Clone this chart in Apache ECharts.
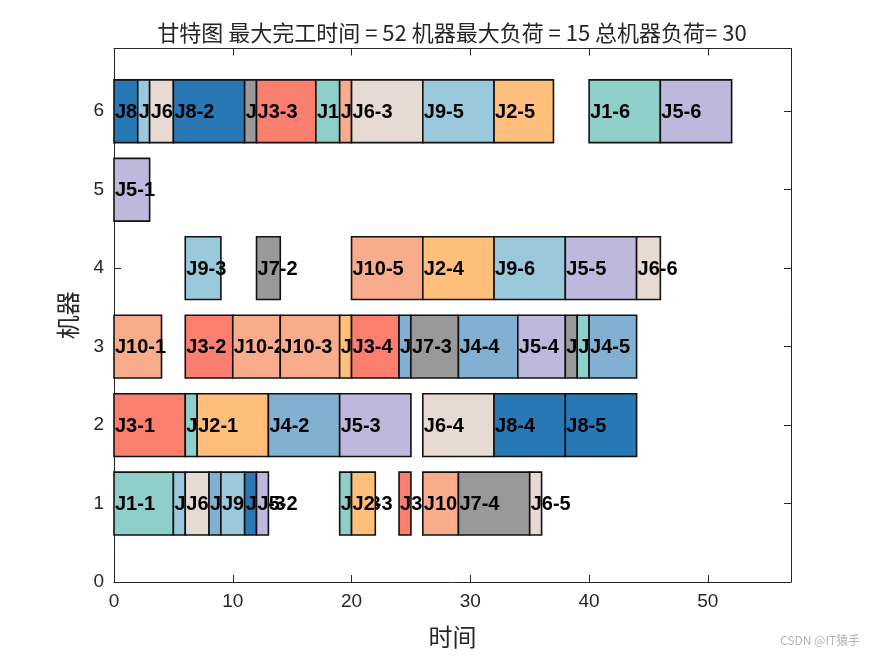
<!DOCTYPE html>
<html>
<head>
<meta charset="utf-8">
<script src="https://cdn.jsdelivr.net/npm/echarts@6/dist/echarts.min.js"></script>
<style>html,body{margin:0;padding:0;background:#fff}#c{width:875px;height:656px}</style>
</head>
<body>
<div id="c"></div>
<script>
// ---- data (time-ordered per machine) ----
var machines = [1,1,1,1,1,1,1,1,1,1,1,1,1,
                2,2,2,2,2,2,2,2,
                3,3,3,3,3,3,3,3,3,3,3,3,3,
                4,4,4,4,4,4,4,
                5,
                6,6,6,6,6,6,6,6,6,6,6,6,6];
var jobs = [1,9,6,4,9,8,5,1,2,3,10,7,6,
            3,1,2,4,5,6,8,8,
            10,3,10,10,2,3,4,7,4,5,7,1,4,
            9,7,10,2,9,5,6,
            5,
            8,9,6,8,7,3,1,10,6,9,2,1,5];
var ops = [1,1,1,1,2,3,2,3,3,5,4,4,5,
           1,2,1,2,3,4,4,5,
           1,2,2,3,2,4,3,3,4,4,5,5,5,
           3,2,5,4,6,5,6,
           1,
           1,4,2,2,1,3,4,6,3,5,5,6,6];
var starts = [0,5,6,8,9,11,12,19,20,24,26,29,35,
              0,6,7,13,19,26,32,38,
              0,6,10,14,19,20,24,25,29,34,38,39,40,
              6,12,20,26,32,38,44,
              0,
              0,2,3,5,11,12,17,19,20,26,32,40,46];
var ends = [5,6,8,9,11,12,13,20,22,25,29,35,36,
            6,7,13,19,25,32,38,44,
            4,10,14,19,20,24,25,29,34,38,39,40,44,
            9,14,26,32,38,44,46,
            3,
            2,3,5,11,12,17,19,20,26,32,37,46,52];
var xTicks = [0,10,20,30,40,50];
var yTicks = [0,1,2,3,4,5,6];
var titleText = '甘特图 最大完工时间 = 52 机器最大负荷 = 15 总机器负荷= 30';

// job colours (style)
var jobColors = {1:'#8ECFC9',2:'#FFBE7A',3:'#FA7F6F',4:'#82B0D2',5:'#BEB8DC',
                 6:'#E7DAD2',7:'#999999',8:'#2878B5',9:'#9AC9DB',10:'#F8AC8C'};

var data = machines.map(function(m,i){
  return [starts[i], ends[i], m, jobs[i], 'J'+jobs[i]+'-'+ops[i]];
});

var chart = echarts.init(document.getElementById('c'), null, {renderer:'canvas'});
var axisColor = '#262626';
var labelFont = 'Arial, "Liberation Sans", Helvetica, sans-serif';
chart.setOption({
  animation:false,
  grid:{left:114, top:48.5, right:84, bottom:74, show:false},
  xAxis:[{
    type:'value', min:0, max:57, interval:10,
    axisLine:{show:true, onZero:false, lineStyle:{color:axisColor, width:1}},
    axisTick:{show:true, inside:true, length:7, lineStyle:{color:axisColor}},
    axisLabel:{show:true, color:axisColor, fontSize:19, fontFamily:labelFont, margin:10, showMaxLabel:false},
    splitLine:{show:false},
    name:'时间', nameLocation:'middle', nameGap:43,
    nameTextStyle:{fontSize:24, color:axisColor, fontFamily:'"Noto Sans CJK SC", sans-serif'}
  },{
    type:'value', position:'top', min:0, max:57, interval:10,
    axisLine:{show:true, onZero:false, lineStyle:{color:axisColor, width:1}},
    axisTick:{show:true, inside:true, length:7, lineStyle:{color:axisColor}},
    axisLabel:{show:false}, splitLine:{show:false}
  }],
  yAxis:[{
    type:'value', min:0, max:6.8, interval:1,
    axisLine:{show:true, onZero:false, lineStyle:{color:axisColor, width:1}},
    axisTick:{show:true, inside:true, length:7, lineStyle:{color:axisColor}},
    axisLabel:{show:true, color:axisColor, fontSize:19, fontFamily:labelFont, margin:10, showMaxLabel:false},
    splitLine:{show:false},
    name:'机器', nameLocation:'middle', nameGap:34, nameRotate:90,
    nameTextStyle:{fontSize:24, color:axisColor, fontFamily:'"Noto Sans CJK SC", sans-serif'}
  },{
    type:'value', position:'right', min:0, max:6.8, interval:1,
    axisLine:{show:true, onZero:false, lineStyle:{color:axisColor, width:1}},
    axisTick:{show:true, inside:true, length:7, lineStyle:{color:axisColor}},
    axisLabel:{show:false}, splitLine:{show:false}
  }],
  graphic:[
    {type:'text', x:452, y:33, z:100,
     style:{text:titleText, x:0, y:0, textAlign:'center', textVerticalAlign:'middle', verticalAlign:'middle',
            font:'22px "Noto Sans CJK SC", sans-serif', fill:axisColor}},
    {type:'text', x:820, y:640, z:100,
     style:{text:'CSDN @IT猿手', x:0, y:0, textAlign:'center', textVerticalAlign:'middle', verticalAlign:'middle',
            font:'12px "Noto Sans CJK SC", sans-serif', fill:'#b4b4b4'}}
  ],
  series:[{
    type:'custom', xAxisIndex:0, yAxisIndex:0, clip:false,
    encode:{x:[0,1], y:2},
    data:data,
    renderItem:function(params, api){
      var s = api.value(0), e = api.value(1), m = api.value(2), j = api.value(3);
      var label = data[params.dataIndex][4];
      var p0 = api.coord([s, m + 0.4]);
      var p1 = api.coord([e, m - 0.4]);
      var i = params.dataIndex;
      return {type:'group', children:[
        {type:'rect', z2: 2*i,
         shape:{x:p0[0], y:p0[1], width:p1[0]-p0[0], height:p1[1]-p0[1]},
         style:{fill:jobColors[j], stroke:'#111', lineWidth:1.6}},
        {type:'text', z2: 2*i+1,
         style:{text:label, x:p0[0]+1, y:(p0[1]+p1[1])/2+1, textAlign:'left',
                textVerticalAlign:'middle', verticalAlign:'middle',
                font:'bold 20px Arial, "Liberation Sans", sans-serif', fill:'#000'}}
      ]};
    }
  }]
});
</script>
</body>
</html>
